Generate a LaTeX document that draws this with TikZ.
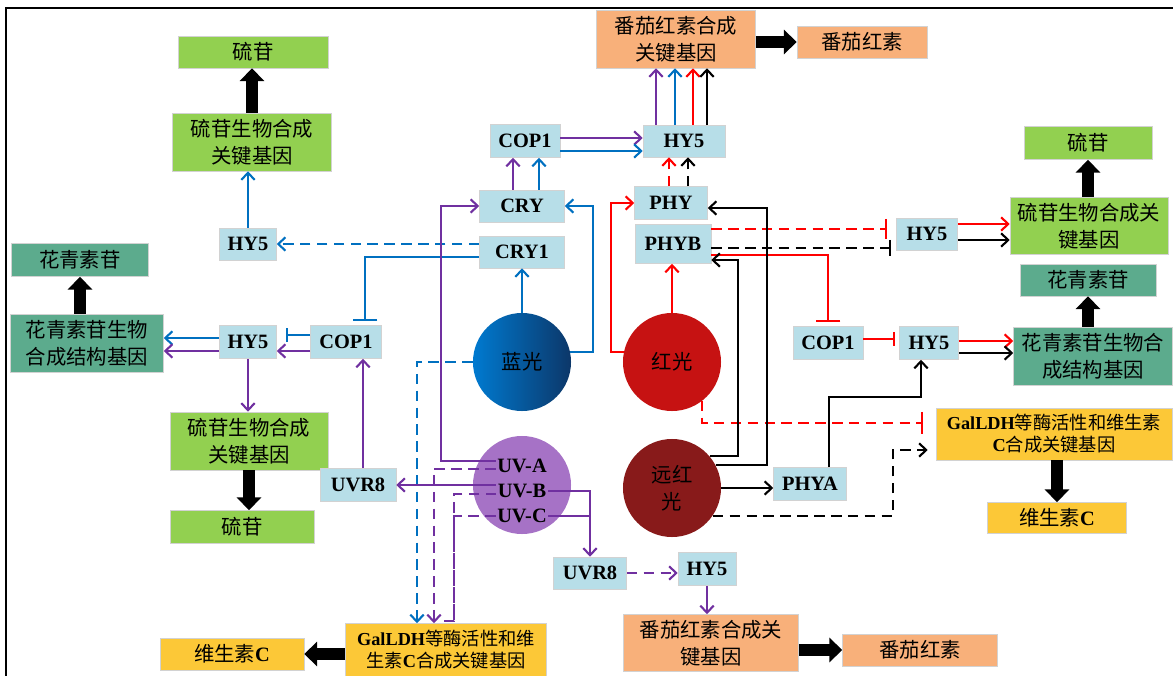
\documentclass[tikz,border=0pt]{standalone}
\usepackage{fontspec}
\setmainfont{Liberation Serif}
\newfontfamily\cjk{Noto Sans CJK SC}
\usetikzlibrary{arrows.meta}
\definecolor{boxblue}{RGB}{183,222,232}
\definecolor{leafgreen}{RGB}{146,208,80}
\definecolor{antteal}{RGB}{92,171,141}
\definecolor{lycorange}{RGB}{248,176,122}
\definecolor{vcyellow}{RGB}{252,200,55}
\definecolor{uvpurple}{RGB}{112,48,160}
\definecolor{lineblue}{RGB}{0,112,192}
\definecolor{linered}{RGB}{255,0,0}
\definecolor{bluelight}{RGB}{0,122,208}
\definecolor{bluedark}{RGB}{12,55,105}
\definecolor{redlight}{RGB}{198,18,18}
\definecolor{uvlight}{RGB}{166,114,198}
\definecolor{farred}{RGB}{136,26,26}

\tikzset{
  lbl/.style={font=\fontsize{14.5}{19}\selectfont\bfseries},
  zh/.style={font=\fontsize{14.5}{19}\selectfont\cjk, align=center},
  vcfont/.style={font=\fontsize{13}{15.6}\selectfont\cjk, align=center},
  sz/.style args={#1/#2}{minimum width=#1*0.025cm, minimum height=#2*0.025cm},
  lbox/.style={draw=gray!35, fill=boxblue, inner sep=0pt, lbl},
  gbox/.style={draw=gray!35, fill=leafgreen, inner sep=0pt, zh},
  tbox/.style={draw=gray!35, fill=antteal, inner sep=0pt, zh},
  obox/.style={draw=gray!35, fill=lycorange, inner sep=0pt, zh},
  ybox/.style={draw=gray!35, fill=vcyellow, inner sep=0pt, zh},
  light/.style={circle, inner sep=0pt, minimum size=2.45cm, zh},
  act/.style={line width=1.5pt, -{Straight Barb[length=5pt,width=9.5pt]}},
  inh/.style={line width=1.5pt, -{Bar[width=#1]}}, inh/.default=0.62cm,
  bigarr/.style={line width=0.28cm, -{Triangle[length=0.32cm,width=0.6cm]}},
  dsh/.style={dash pattern=on 7.5pt off 4.5pt}
}

\begin{document}
\begin{tikzpicture}[x=0.025cm, y=-0.025cm]
  \useasboundingbox (0,0) rectangle (1173,676);
  % frame
  \draw[line width=1.6pt] (6,676) -- (6,8) -- (1173,8);

  % top centre
  \node[lbox, sz=70/33] (cop1t) at (525,141) {COP1};
  \node[lbox, sz=82/32] (hy5t) at (684,141) {HY5};
  \node[lbox, sz=85/32] (cry) at (522,206) {CRY};
  \node[lbox, sz=85/32] (cry1) at (522,252) {CRY1};
  \node[lbox, sz=73/33] (phy) at (671,203) {PHY};
  \node[lbox, sz=76/39] (phyb) at (673,244) {PHYB};
  \node[obox, sz=159/58] (lycgA) at (676,39) {番茄红素合成\\关键基因};
  \node[obox, sz=130/32] (lycA) at (862,42) {番茄红素};

  % left side
  \node[gbox, sz=150/32] (glucA) at (253,52) {硫苷};
  \node[gbox, sz=159/58] (glucgA) at (252,142) {硫苷生物合成\\关键基因};
  \node[lbox, sz=57/32] (hy5a) at (248,244) {HY5};
  \node[tbox, sz=137/33] (anthoA) at (80,260) {花青素苷};
  \node[tbox, sz=153/58] (anthogA) at (87,343) {花青素苷生物\\合成结构基因};
  \node[lbox, sz=57/33] (hy5b) at (248,342) {HY5};
  \node[lbox, sz=71/33] (cop1a) at (346,342) {COP1};
  \node[gbox, sz=158/58] (glucgB) at (249,441) {硫苷生物合成\\关键基因};
  \node[gbox, sz=144/33] (glucB) at (242,527) {硫苷};
  \node[lbox, sz=76/33] (uvr8a) at (358,485) {UVR8};
  \node[ybox, sz=144/32] (vitcA) at (232,654) {维生素{\rmfamily\bfseries C}};
  \node[ybox, sz=201/53, vcfont] (vitcgA) at (446,650)
    {{\rmfamily\bfseries GalLDH}等酶活性和维\\生素{\rmfamily\bfseries C}合成关键基因};

  % light sources
  \node[light, left color=bluelight, right color=bluedark] (blue) at (522,362) {蓝光};
  \node[light, fill=redlight] (red) at (672,362) {红光};
  \node[light, fill=uvlight] (uv) at (522,485) {};
  \node[light, fill=farred] (fr) at (672,488) {远红\\光};
  \node[lbl, inner sep=1pt] (uva) at (522,466) {UV-A};
  \node[lbl, inner sep=1pt] (uvb) at (522,491) {UV-B};
  \node[lbl, inner sep=1pt] (uvc) at (522,516) {UV-C};

  % right side
  \node[gbox, sz=128/33] (glucC) at (1088,143) {硫苷};
  \node[gbox, sz=158/57] (glucgC) at (1089,226) {硫苷生物合成关\\键基因};
  \node[lbox, sz=61/32] (hy5e) at (927,234) {HY5};
  \node[tbox, sz=136/32] (anthoB) at (1088,280) {花青素苷};
  \node[tbox, sz=159/58] (anthogB) at (1093,356) {花青素苷生物合\\成结构基因};
  \node[lbox, sz=70/33] (cop1b) at (828,343) {COP1};
  \node[lbox, sz=59/33] (hy5d) at (929,343) {HY5};
  \node[lbox, sz=73/33] (phya) at (810,484) {PHYA};
  \node[ybox, sz=236/52, vcfont] (vitcgB) at (1054,434)
    {{\rmfamily\bfseries GalLDH}等酶活性和维生素\\{\rmfamily\bfseries C}合成关键基因};
  \node[ybox, sz=139/31] (vitcB) at (1057,518) {维生素{\rmfamily\bfseries C}};

  % bottom
  \node[lbox, sz=73/32] (uvr8b) at (590,573) {UVR8};
  \node[lbox, sz=58/33] (hy5c) at (707,569) {HY5};
  \node[obox, sz=175/57] (lycgB) at (711,643) {番茄红素合成关\\键基因};
  \node[obox, sz=155/32] (lycB) at (920,650) {番茄红素};

  % product arrows
  \draw[bigarr] (glucgA.north) -- (glucgA.north |- glucA.south);
  \draw[bigarr] (anthoA.south |- anthogA.north) -- (anthoA.south);
  \draw[bigarr] (glucgB.south) -- (glucgB.south |- glucB.north);
  \draw[bigarr] (vitcgA.west |- vitcA.east) -- (vitcA.east);
  \draw[bigarr] (lycgA.east |- lycA.west) -- (lycA.west);
  \draw[bigarr] (lycgB.east |- lycB.west) -- (lycB.west);
  \draw[bigarr] (glucC.south |- glucgC.north) -- (glucC.south);
  \draw[bigarr] (anthoB.south |- anthogB.north) -- (anthoB.south);
  \draw[bigarr] (vitcB.north |- vitcgB.south) -- (vitcB.north);

  % top centre links
  \foreach \px/\col in {656/uvpurple,675/lineblue,693/linered,707/black}
    \draw[act,\col] (hy5t.north -| \px,0) -- (lycgA.south -| \px,0);
  \draw[act,uvpurple] (cop1t.east |- 0,138) -- (hy5t.west |- 0,138);
  \draw[act,lineblue] (cop1t.east |- 0,151) -- (hy5t.west |- 0,151);
  \draw[act,uvpurple] (cry.north -| 513,0) -- (cop1t.south -| 513,0);
  \draw[act,lineblue] (cry.north -| 539,0) -- (cop1t.south -| 539,0);
  \draw[act,linered,dsh] (phy.north -| 669,0) -- (hy5t.south -| 669,0);
  \draw[act,dsh] (phy.north -| 688,0) -- (hy5t.south -| 688,0);

  % blue light
  \draw[act,lineblue] (blue.north) -- (cry1.south);
  \draw[act,lineblue] (blue.12) -| (593,206) -- (cry.east);
  \draw[act,lineblue,dsh] (blue.west) -| (vitcgA.north -| 417,0);
  \draw[act,lineblue,dsh] (cry1.west |- hy5a.east) -- (hy5a.east);
  \draw[inh,lineblue,shorten >=3pt] (cry1.west |- 0,257) -| (cop1a.north -| 365,0);

  % left cluster
  \draw[inh=0.36cm,lineblue,shorten >=0.22cm] (cop1a.west |- 0,335) -- (hy5b.east |- 0,335);
  \draw[act,uvpurple] (cop1a.west |- 0,351) -- (hy5b.east |- 0,351);
  \draw[act,lineblue] (hy5b.west |- 0,338) -- (anthogA.east |- 0,338);
  \draw[act,uvpurple] (hy5b.west |- 0,351) -- (anthogA.east |- 0,351);
  \draw[act,uvpurple] (hy5b.south) -- (hy5b.south |- glucgB.north);
  \draw[act,lineblue] (hy5a.north) -- (hy5a.north |- glucgA.south);
  \draw[act,uvpurple] (uvr8a.north -| 363,0) -- (cop1a.south -| 363,0);

  % UV light
  \draw[act,uvpurple] (uvb.west |- uvr8a.east) -- (uvr8a.east);
  \draw[act,uvpurple] (uva.west |- 0,461) -| (441,206) -- (cry.west);
  \draw[act,uvpurple,dsh] (uva.west |- 0,469) -| (vitcgA.north -| 434,0);
  \coordinate (uvjoin) at (454,621);
  \coordinate (uvend) at (440,621);
  \draw[uvpurple,dsh,line width=1.5pt] (uvb.west |- 0,494) -| (uvjoin) -- (uvend);
  \draw[uvpurple,dsh,line width=1.5pt] (uvc.west) -| (uvjoin);
  \draw[act,uvpurple] (uvb.east) -| (uvr8b.north);
  \draw[uvpurple,line width=1.5pt] (uvc.east) -- (uvc.east -| uvr8b.north);
  \draw[act,uvpurple,dsh] (uvr8b.east) -- (uvr8b.east -| hy5c.west);
  \draw[act,uvpurple] (hy5c.south) -- (hy5c.south |- lycgB.north);

  % red light
  \draw[act,linered] (red.north) -- (red.north |- phyb.south);
  \draw[act,linered] (red.168) -| (611,203) -- (phy.west);
  \draw[inh=0.55cm,linered,dsh,shorten >=0.32cm] (red.-52) |- (vitcgB.west |- 0,423);
  \draw[inh=0.5cm,linered,dsh,shorten >=0.22cm] (phyb.east |- 0,229) -- (hy5e.west |- 0,229);
  \draw[inh=0.4cm,dsh,shorten >=0.12cm] (phyb.east |- 0,248) -- (hy5e.west |- 0,248);
  \draw[inh,linered,shorten >=3pt] (phyb.east |- 0,255) -| (cop1b.north);
  \draw[inh=0.36cm,linered,shorten >=0.1cm] (cop1b.east |- 0,339) -- (hy5d.west |- 0,339);
  \draw[act,linered] (hy5d.east |- 0,341) -- (anthogB.west |- 0,341);
  \draw[act] (hy5d.east |- 0,353) -- (anthogB.west |- 0,353);
  \draw[act,linered] (hy5e.east |- 0,224) -- (glucgC.west |- 0,224);
  \draw[act] (hy5e.east |- 0,240) -- (glucgC.west |- 0,240);

  % far-red light
  \draw[act] (fr.40) -| (738,260) -- (phyb.east |- 0,260);
  \draw[act] (fr.28) -| (767,208) -- (phy.east |- 0,208);
  \draw[act] (fr.east) -- (fr.east -| phya.west);
  \draw[act] (phya.north -| 829,0) |- (921,397) -- (hy5d.south -| 921,0);
  \draw[act,dsh,shorten >=0.2cm] (fr.-34) -| (893,450) -- (vitcgB.west |- 0,450);
\end{tikzpicture}
\end{document}
